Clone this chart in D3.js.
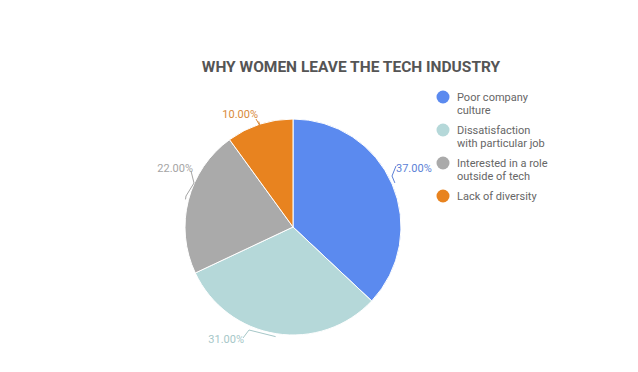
<!DOCTYPE html>
<html><head><meta charset="utf-8">
<script src="https://cdn.jsdelivr.net/npm/d3@7"></script>
<style>
html,body{margin:0;padding:0;background:#fff;}
svg{display:block;font-family:Roboto,"Noto Sans",sans-serif;}
</style></head>
<body>
<svg id="chart" width="638" height="372"></svg>
<script>
const categories = ["Poor company culture","Dissatisfaction with particular job","Interested in a role outside of tech","Lack of diversity"];
const legendLines = [["Poor company","culture"],["Dissatisfaction","with particular job"],["Interested in a role","outside of tech"],["Lack of diversity"]];
const values = [37, 31, 22, 10];
const valueLabels = ["37.00%","31.00%","22.00%","10.00%"];
const colors = ["#5b8aef","#b5d8d9","#aaaaaa","#e8831f"];
const labelColors = ["#5b7fd6","#a6c7c8","#a5a5a5","#d98a3a"];

const svg = d3.select("#chart");
const cx = 293, cy = 227, R = 108;

svg.append("text").attr("x", 351).attr("y", 72).attr("text-anchor","middle")
  .attr("font-size", 15.5).attr("font-weight", 700).attr("fill", "#555")
  .text("WHY WOMEN LEAVE THE TECH INDUSTRY");

const pie = d3.pie().sort(null).value(d => d);
const arcs = pie(values);
const arc = d3.arc().innerRadius(0).outerRadius(R);
const g = svg.append("g").attr("transform", `translate(${cx},${cy})`);
g.selectAll("path").data(arcs).join("path")
  .attr("d", arc).attr("fill", (d,i) => colors[i])
  .attr("stroke", "#fff").attr("stroke-width", 1);

const labelPos = [
  {x: 396, y: 172, anchor: "start"},
  {x: 244, y: 343, anchor: "end"},
  {x: 193, y: 172, anchor: "end"},
  {x: 258, y: 118, anchor: "end"}
];
const elbows = [
  [[396,166],[392,176]],
  [[243,338],[249,330]],
  [[191,171],[194,183],[186,196]],
  [[256,119],[260,126]]
];
arcs.forEach((d,i) => {
  const a = (d.startAngle + d.endAngle)/2;
  const ex = cx + (R+3)*Math.sin(a), ey = cy - (R+3)*Math.cos(a);
  const pts = elbows[i].concat([[ex, ey]]);
  svg.append("path").attr("d", d3.line()(pts)).attr("fill","none")
    .attr("stroke", labelColors[i]).attr("stroke-width", 1);
  svg.append("text").attr("x", labelPos[i].x).attr("y", labelPos[i].y)
    .attr("text-anchor", labelPos[i].anchor).attr("font-size", 11)
    .attr("fill", labelColors[i]).text(valueLabels[i]);
});

const legendY = [97, 130, 163, 196];
categories.forEach((c,i) => {
  const lg = svg.append("g");
  lg.append("circle").attr("cx", 443).attr("cy", legendY[i]).attr("r", 6.5).attr("fill", colors[i]);
  const t = lg.append("text").attr("x", 457).attr("y", legendY[i] + 4).attr("font-size", 11).attr("fill", "#666");
  legendLines[i].forEach((ln, j) => {
    t.append("tspan").attr("x", 457).attr("dy", j === 0 ? 0 : 12.5).text(ln);
  });
});
</script>
</body></html>
